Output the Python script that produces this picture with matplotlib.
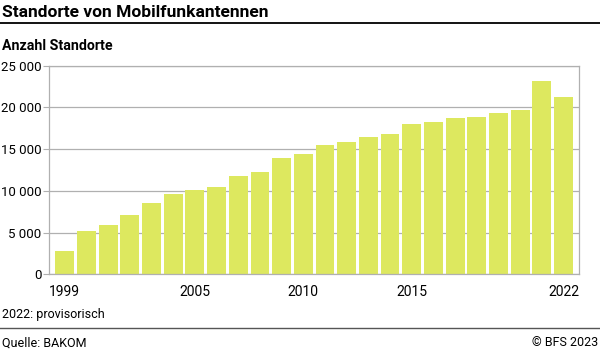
import numpy as np
import matplotlib.pyplot as plt
from matplotlib.ticker import FuncFormatter

plt.rcParams['font.family'] = ['Roboto', 'DejaVu Sans']

# Standorte von Mobilfunkantennen, 1999-2022
years = list(range(1999, 2023))
standorte = [2800, 5220, 5910, 7140, 8550, 9590, 10100, 10430, 11750, 12220,
             13900, 14420, 15500, 15890, 16420, 16780, 18010, 18290, 18730,
             18820, 19370, 19690, 23200, 21290]
shown_years = [1999, 2005, 2010, 2015, 2022]
yticks = [0, 5000, 10000, 15000, 20000, 25000]

bar_color = '#dde85f'
grid_color = '#b0b0b0'

fig = plt.figure(figsize=(6, 3.51), dpi=100)
ax = fig.add_axes([0.0817, 0.2185, 0.8838, 0.5943])

x = np.arange(len(years))
ax.bar(x, standorte, width=0.87, color=bar_color, zorder=2)

ax.set_ylim(0, 25000)
ax.set_xlim(-0.73, len(years) - 0.27)
ax.set_yticks(yticks)
ax.yaxis.set_major_formatter(FuncFormatter(lambda v, p: f"{int(v):,}".replace(",", " ")))
ax.set_xticks([years.index(y) for y in shown_years])
ax.set_xticklabels([str(y) for y in shown_years])

ax.grid(axis='y', color=grid_color, linewidth=0.9, zorder=0)
for s in ax.spines.values():
    s.set_color(grid_color)
    s.set_linewidth(0.9)
ax.tick_params(axis='y', length=4, color=grid_color, labelsize=9.5, pad=1.5)
ax.tick_params(axis='x', length=0, labelsize=10, pad=8)

#title and header
fig.text(0.003, 0.965, "Standorte von Mobilfunkantennen", fontsize=12.5, fontweight='bold', va='center', ha='left')
fig.add_artist(plt.Line2D([0, 1], [0.934, 0.934], color='black', linewidth=1.3))
fig.text(0.003, 0.869, "Anzahl Standorte", fontsize=10.2, fontweight='bold', va='center', ha='left')

#footer
fig.text(0.003, 0.103, "2022: provisorisch", fontsize=9, va='center', ha='left')
fig.add_artist(plt.Line2D([0, 1], [0.066, 0.066], color='#555555', linewidth=1.0))
fig.text(0.003, 0.023, "Quelle: BAKOM", fontsize=9, va='center', ha='left')
fig.text(0.997, 0.023, "© BFS 2023", fontsize=9, va='center', ha='right')

fig.savefig('out.png', dpi=100)
